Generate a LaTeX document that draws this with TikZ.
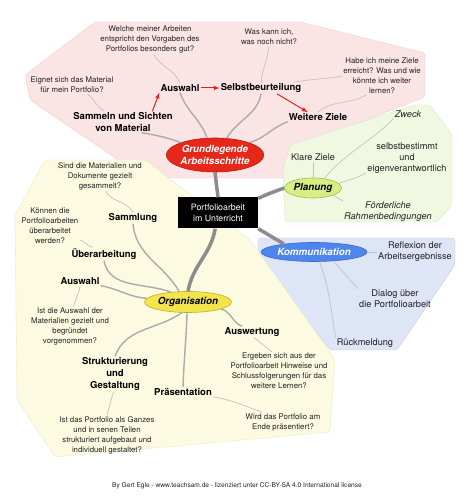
\documentclass[tikz,border=0pt]{standalone}
\usepackage{fontspec}
\setmainfont{TeX Gyre Heros}
\usetikzlibrary{shapes.geometric}
\usetikzlibrary{calc}

\definecolor{pinkfill}{HTML}{FBE4E4}
\definecolor{pinkline}{HTML}{F2CFCF}
\definecolor{greenfill}{HTML}{F1F8E1}
\definecolor{greenline}{HTML}{DCE8C4}
\definecolor{bluefill}{HTML}{DDE5F7}
\definecolor{blueline}{HTML}{C3D0EE}
\definecolor{yellowfill}{HTML}{FCFAE1}
\definecolor{yellowline}{HTML}{EEEAC4}
\definecolor{redtopic}{HTML}{E8271B}
\definecolor{redtopicline}{HTML}{B51C12}
\definecolor{greentopic}{HTML}{D6EE83}
\definecolor{greentopicline}{HTML}{9DBE4A}
\definecolor{bluetopic}{HTML}{4E86EC}
\definecolor{bluetopicline}{HTML}{3B6AC8}
\definecolor{yellowtopic}{HTML}{F3E44B}
\definecolor{yellowtopicline}{HTML}{BFB02A}
\definecolor{branchgray}{HTML}{8C8C8C}
\definecolor{twiggray}{HTML}{ABABAB}
\definecolor{leafgray}{HTML}{C2C2C2}
\definecolor{arrred}{HTML}{E3211B}
\definecolor{txt}{HTML}{222222}

\begin{document}
\begin{tikzpicture}[x=1pt,y=1pt,
    q/.style={font=\fontsize{7.8}{10}\selectfont, align=center, text=txt, inner sep=1pt},
    sub/.style={font=\fontsize{9.2}{11}\selectfont, align=center, text=txt, inner sep=1pt},
    lbl/.style={font=\fontsize{9.5}{11.8}\selectfont\bfseries, align=center, text=black, inner sep=1pt},
    topic/.style={ellipse, inner sep=0pt, line width=0.6pt, font=\fontsize{9.8}{11.5}\selectfont\bfseries\itshape, align=center},
    branch/.style={draw=branchgray, line width=3.5pt},
    twig/.style={draw=twiggray, line width=1.4pt},
    leaf/.style={draw=leafgray, line width=0.7pt},
    redarr/.style={draw=arrred, line width=1pt, -latex}]

        \useasboundingbox (0,0) rectangle (474,500);
        \fill[white] (0,0) rectangle (474,500);

        \filldraw[fill=pinkfill, draw=pinkline, rounded corners=3pt] (95,478) -- (300,478) -- (425,447) -- (425,403) -- (290,350) -- (290,322) -- (145,322) -- (30,400) -- (25,425) -- cycle;
        \filldraw[fill=greenfill, draw=greenline, rounded corners=3pt] (290,355) -- (415,395) -- (430,395) -- (452,365) -- (452,295) -- (437,278) -- (285,278) -- (283,330) -- cycle;
        \filldraw[fill=bluefill, draw=blueline, rounded corners=3pt] (258,262) -- (455,262) -- (455,235) -- (397,150) -- (330,150) -- (258,245) -- cycle;
        \filldraw[fill=yellowfill, draw=yellowline, rounded corners=3pt] (45,340) -- (145,340) -- (250,260) -- (325,155) -- (335,140) -- (330,68) -- (55,43) -- (17,100) -- (15,285) -- cycle;

        \node[fill=black, text=white, font=\fontsize{8.8}{11}\selectfont, align=center, minimum width=80pt, minimum height=31pt, inner sep=1pt] (center) at (218,287) {Portfolioarbeit\\im Unterricht};

        \node[topic, fill=redtopic, draw=redtopicline, text=white, minimum width=90pt, minimum height=34pt] (grund) at (215,345) {Grundlegende\\Arbeitsschritte};
        \node[topic, fill=greentopic, draw=greentopicline, text=black, minimum width=57pt, minimum height=20pt] (plan) at (313,312) {Planung};
        \node[topic, fill=bluetopic, draw=bluetopicline, text=white, minimum width=106pt, minimum height=19pt] (komm) at (314,248) {Kommunikation};
        \node[topic, fill=yellowtopic, draw=yellowtopicline, text=black, minimum width=87pt, minimum height=21pt] (orga) at (188,198) {Organisation};

        \node[q] (qWelche) at (150,460) {Welche meiner Arbeiten\\entspricht den Vorgaben des\\Portfolios besonders gut?};
        \node[q] (qWasKann) at (269,463) {Was kann ich,\\was noch nicht?};
        \node[q] (qHabe) at (382,424) {Habe ich meine Ziele\\erreicht? Was und wie\\könnte ich weiter\\lernen?};
        \node[q] (qEignet) at (72,415) {Eignet sich das Material\\für mein Portfolio?};
        \node[lbl] (auswahlG) at (180,412) {Auswahl};
        \node[lbl] (selbst) at (261,412) {Selbstbeurteilung};
        \node[lbl] (sammeln) at (123,378) {Sammeln und Sichten\\von Material};
        \node[lbl] (weitere) at (318,383) {Weitere Ziele};

        \node[sub, font=\fontsize{9.2}{11}\selectfont\itshape] (zweck) at (408,386) {Zweck};
        \node[sub] (klar) at (313,343) {Klare Ziele};
        \node[sub] (selbstb) at (407,342) {selbstbestimmt\\und\\eigenverantwortlich};
        \node[sub, font=\fontsize{9.2}{11}\selectfont\itshape] (foerder) at (388,288) {Förderliche\\Rahmenbedingungen};

        \node[sub] (reflex) at (415,248) {Reflexion der\\Arbeitsergebnisse};
        \node[sub] (dialog) at (395,201) {Dialog über\\die Portfolioarbeit};
        \node[sub] (rueck) at (365,157) {Rückmeldung};

        \node[q] (qSind) at (100,324) {Sind die Materialien und\\Dokumente gezielt\\gesammelt?};
        \node[lbl] (sammlung) at (133,282) {Sammlung};
        \node[q] (qKoennen) at (50,274) {Können die\\Portfolioarbeiten\\überarbeitet\\werden?};
        \node[lbl] (ueberarb) at (104,246) {Überarbeitung};
        \node[lbl] (auswahlO) at (80,219) {Auswahl};
        \node[q] (qIstAusw) at (70,173) {Ist die Auswahl der\\Materialien gezielt und\\begründet\\vorgenommen?};
        \node[lbl] (struktur) at (115,126) {Strukturierung\\und\\Gestaltung};
        \node[lbl] (praes) at (183,108) {Präsentation};
        \node[q] (qIstDas) at (107,65) {Ist das Portfolio als Ganzes\\und in senen Teilen\\strukturiert aufgebaut und\\individuell gestaltet?};
        \node[lbl] (auswert) at (252,168) {Auswertung};
        \node[q] (qErgeben) at (279,129) {Ergeben sich aus der\\Portfolioarbeit Hinweise und\\Schlussfolgerungen für das\\weitere Lernen?};
        \node[q] (qWird) at (283,78) {Wird das Portfolio am\\Ende präsentiert?};

        \node[font=\fontsize{6.6}{8}\selectfont, text=txt] (footer) at (237,14) {By Gert Egle - www.teachsam.de - lizenziert unter CC-BY-SA 4.0 International license};

        \draw[branch] (center.north) -- (grund.south);
        \draw[branch] (center.20) to[out=25,in=200] (plan.west);
        \draw[branch] (center.south east) -- (komm.165);
        \draw[branch] (center.-100) to[out=-100,in=80] (orga.north);

        \draw[twig] (grund.115) to[out=110,in=-70] (auswahlG.south);
        \draw[leaf] (auswahlG.north) to[out=110,in=-60] (qWelche.-75);
        \draw[twig] (grund.55) to[out=60,in=-100] (selbst.south);
        \draw[leaf] (selbst.north) to[out=85,in=-95] (qWasKann.south);
        \draw[twig] (grund.20) to[out=15,in=200] (weitere.south west);
        \draw[leaf] (weitere.north) to[out=40,in=-150] (qHabe.-130);
        \draw[leaf] (selbst.10) to[out=10,in=190] (qHabe.west);
        \draw[twig] (grund.160) to[out=160,in=-10] (sammeln.-30);
        \draw[leaf] (sammeln.150) to[out=150,in=-40] (qEignet.-30);

        \draw[redarr] (sammeln.20) -- (auswahlG.south west);
        \draw[redarr] (auswahlG.east) -- (selbst.west);
        \draw[redarr] (selbst.-20) -- (weitere.155);

        \draw[leaf] (plan.north) -- (klar.south);
        \draw[leaf] (plan.40) to[out=50,in=-135] (zweck.south west);
        \draw[leaf] (plan.10) to[out=20,in=-150] (selbstb.-160);
        \draw[leaf] (plan.-20) -- (foerder.north west);

        \draw[leaf] (komm.east) -- (reflex.west);
        \draw[leaf] (komm.-25) -- (dialog.north west);
        \draw[leaf] (komm.-60) to[out=-70,in=100] (rueck.north west);

        \draw[twig] (orga.130) to[out=120,in=-85] (sammlung.south);
        \draw[leaf] (sammlung.north) to[out=120,in=-60] (qSind.-70);
        \draw[twig] (orga.150) to[out=160,in=-80] (ueberarb.south);
        \draw[leaf] (ueberarb.150) to[out=160,in=-20] (qKoennen.-25);
        \draw[twig] (orga.175) to[out=175,in=-10] (auswahlO.south east);
        \draw[leaf] (auswahlO.south) to[out=-95,in=80] (qIstAusw.80);
        \draw[twig] (orga.-120) to[out=-145,in=70] (struktur.north);
        \draw[leaf] (struktur.-95) -- (qIstDas.north);
        \draw[twig] (orga.-95) to[out=-92,in=88] (praes.north);
        \draw[leaf] (praes.south east) to[out=-10,in=160] (qWird.155);
        \draw[twig] (orga.-12) to[out=-15,in=160] (auswert.150);
        \draw[leaf] (auswert.-70) -- (qErgeben.110);

    \end{tikzpicture}
\end{document}
